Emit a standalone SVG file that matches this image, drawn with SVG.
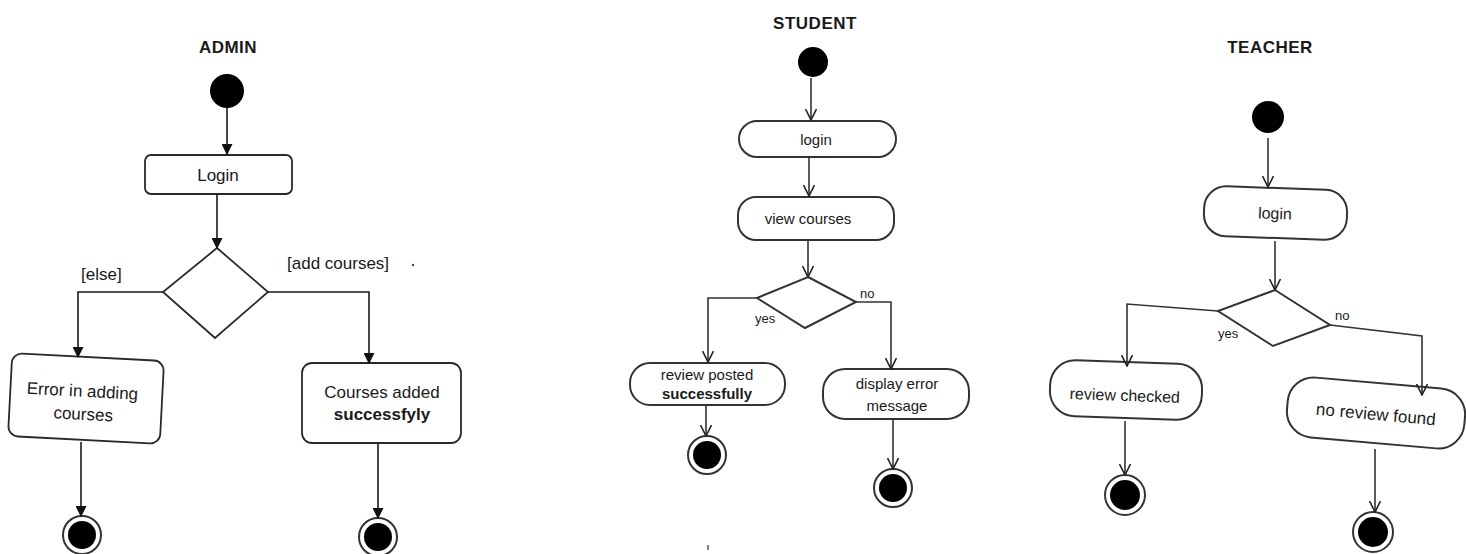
<svg xmlns="http://www.w3.org/2000/svg" width="1466" height="554" viewBox="0 0 1466 554">
  <defs>
    <marker id="arrFill" viewBox="0 0 10 10" refX="9" refY="5" markerWidth="11" markerHeight="11" markerUnits="userSpaceOnUse" orient="auto">
      <path d="M0,0 L10,5 L0,10 Z" fill="#111"/>
    </marker>
    <marker id="arrOpen" viewBox="0 0 12 12" refX="11" refY="6" markerWidth="12" markerHeight="12" markerUnits="userSpaceOnUse" orient="auto">
      <path d="M0,0.5 L11,6 L0,11.5" fill="none" stroke="#222" stroke-width="1.6"/>
    </marker>
  </defs>
  <style>
    text { font-family: "Liberation Sans", Arial, sans-serif; fill: #1a1a1a; }
    .title { font-size: 17px; font-weight: bold; text-anchor: middle; letter-spacing: 0.5px; }
    .lbl { font-size: 17px; text-anchor: middle; }
    .slbl { font-size: 15px; text-anchor: middle; }
    .tlbl { font-size: 16px; text-anchor: middle; }
    .guard { font-size: 17px; }
    .small { font-size: 13px; }
    .box { fill: #fff; stroke: #2a2a2a; stroke-width: 1.8; }
    .sbox { fill: #fff; stroke: #333; stroke-width: 2; }
    .conA { fill: none; stroke: #1a1a1a; stroke-width: 1.6; marker-end: url(#arrFill); }
    .conB { fill: none; stroke: #333; stroke-width: 1.6; marker-end: url(#arrOpen); }
    .start { fill: #000; }
    .endRing { fill: #fff; stroke: #333; stroke-width: 2; }
    .endDot { fill: #000; }
  </style>
  <rect width="1466" height="554" fill="#fff"/>

  <!-- ADMIN swimlane -->
  <g id="admin">
    <text class="title" x="228" y="53">ADMIN</text>
    <g id="admin-start"><circle class="start" cx="227" cy="91" r="17"/></g>
    <g id="admin-login">
      <rect class="box" x="145" y="155" width="147" height="39" rx="6"/>
      <text class="lbl" x="218" y="181">Login</text>
    </g>
    <g id="admin-decision">
      <polygon class="box" points="217,248 268,292 215,338 163,292"/>
    </g>
    <g id="admin-error" transform="rotate(3 86 399)">
      <rect class="box" x="10" y="357" width="152" height="83" rx="10"/>
      <text class="lbl" x="82" y="397">Error in adding</text>
      <text class="lbl" x="84" y="420">courses</text>
    </g>
    <g id="admin-added">
      <rect class="box" x="302" y="363" width="159" height="80" rx="10"/>
      <text class="lbl" x="382" y="398">Courses added</text>
      <text class="lbl" x="382" y="420" font-weight="bold">successfyly</text>
    </g>
    <g id="admin-end1"><circle class="endRing" cx="82" cy="535" r="19"/><circle class="endDot" cx="82" cy="535" r="14"/></g>
    <g id="admin-end2"><circle class="endRing" cx="378" cy="537" r="19"/><circle class="endDot" cx="378" cy="537" r="14"/></g>
    <text class="guard" x="81" y="280">[else]</text>
    <text class="guard" x="287" y="269">[add courses]</text>
    <circle cx="413" cy="265" r="1.2" fill="#444"/>
  </g>

  <!-- STUDENT swimlane -->
  <g id="student">
    <text class="title" x="815" y="29">STUDENT</text>
    <g id="student-start"><circle class="start" cx="813" cy="62" r="15"/></g>
    <g id="student-login">
      <rect class="sbox" x="739" y="121" width="157" height="36" rx="18"/>
      <text class="slbl" x="816" y="145">login</text>
    </g>
    <g id="student-view">
      <rect class="sbox" x="738" y="197" width="156" height="43" rx="18"/>
      <text class="slbl" x="808" y="224">view courses</text>
    </g>
    <g id="student-decision">
      <polygon class="sbox" points="808,277 856,302 805,328 757,298"/>
    </g>
    <g id="student-posted">
      <rect class="sbox" x="630" y="363" width="155" height="42" rx="20"/>
      <text class="slbl" x="707" y="380">review posted</text>
      <text class="slbl" x="707" y="399" font-weight="bold">successfully</text>
    </g>
    <g id="student-error">
      <rect class="sbox" x="823" y="369" width="146" height="50" rx="22"/>
      <text class="slbl" x="897" y="389">display error</text>
      <text class="slbl" x="897" y="411">message</text>
    </g>
    <g id="student-end1"><circle class="endRing" cx="707" cy="455" r="19"/><circle class="endDot" cx="707" cy="455" r="14"/></g>
    <g id="student-end2"><circle class="endRing" cx="893" cy="488" r="19"/><circle class="endDot" cx="893" cy="488" r="14"/></g>
    <text class="small" x="755" y="323">yes</text>
    <text class="small" x="860" y="298">no</text>
    <path d="M708 545 L708 550" stroke="#555" stroke-width="1.5"/>
  </g>

  <!-- TEACHER swimlane -->
  <g id="teacher">
    <text class="title" x="1270" y="53">TEACHER</text>
    <g id="teacher-start"><circle class="start" cx="1268" cy="117" r="16"/></g>
    <g id="teacher-login" transform="rotate(2 1275 213)">
      <rect class="sbox" x="1204" y="188" width="143" height="50" rx="22"/>
      <text class="tlbl" x="1275" y="219">login</text>
    </g>
    <g id="teacher-decision">
      <polygon class="sbox" points="1275,290 1330,325 1273,346 1218,311"/>
    </g>
    <g id="teacher-checked" transform="rotate(2 1126 390)">
      <rect class="sbox" x="1050" y="362" width="152" height="56" rx="25"/>
      <text class="tlbl" x="1125" y="401">review checked</text>
    </g>
    <g id="teacher-notfound" transform="rotate(5 1376 413)">
      <rect class="sbox" x="1287" y="383" width="178" height="60" rx="26"/>
      <text class="lbl" x="1376" y="420">no review found</text>
    </g>
    <g id="teacher-end1"><circle class="endRing" cx="1125" cy="495" r="20"/><circle class="endDot" cx="1125" cy="495" r="15"/></g>
    <g id="teacher-end2"><circle class="endRing" cx="1373" cy="532" r="20"/><circle class="endDot" cx="1373" cy="532" r="15"/></g>
    <text class="small" x="1218" y="338">yes</text>
    <text class="small" x="1335" y="320">no</text>
  </g>

  <!-- transitions -->
  <g id="connectors">
    <path class="conA" d="M227 108 V154"/>
    <path class="conA" d="M217 194 V248"/>
    <path class="conA" d="M163 292 H78 V357"/>
    <path class="conA" d="M268 292 H369 V363"/>
    <path class="conA" d="M81 442 V516"/>
    <path class="conA" d="M378 443 V518"/>

    <path class="conB" d="M811 78 V120"/>
    <path class="conB" d="M809 157 V196"/>
    <path class="conB" d="M808 240 V277"/>
    <path class="conB" d="M757 298 H708 V362"/>
    <path class="conB" d="M856 302 H891 V369"/>
    <path class="conB" d="M706 405 V436"/>
    <path class="conB" d="M893 419 V469"/>

    <path class="conB" d="M1268 138 V187"/>
    <path class="conB" d="M1275 241 V290"/>
    <path class="conB" d="M1218 311 L1127 304 V366"/>
    <path class="conB" d="M1330 325 L1422 336 V395"/>
    <path class="conB" d="M1125 421 V475"/>
    <path class="conB" d="M1375 449 V512"/>
  </g>
</svg>
